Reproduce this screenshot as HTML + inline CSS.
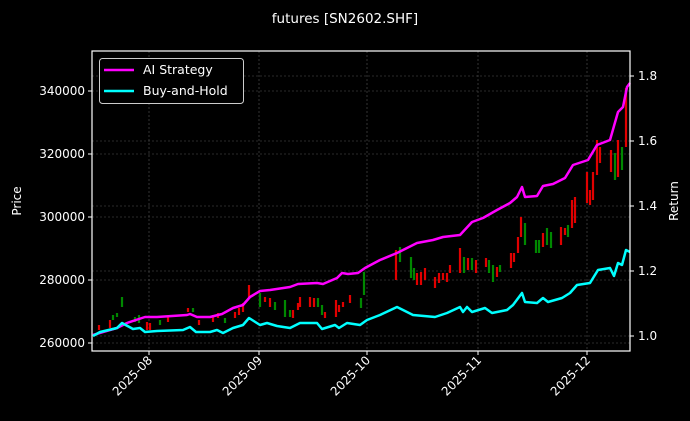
<!DOCTYPE html>
<html><head><meta charset="utf-8"><style>body{margin:0;background:#000}svg{display:block}text{font-family:"DejaVu Sans","Liberation Sans",sans-serif;fill:#fff}</style></head><body>
<svg width="690" height="421" viewBox="0 0 690 421" xmlns="http://www.w3.org/2000/svg">
<rect width="690" height="421" fill="#000"/>
<text x="345" y="23" font-size="13.5" text-anchor="middle">futures [SN2602.SHF]</text>
<g stroke="#555" stroke-width="0.6" stroke-dasharray="2,2">
<line x1="149" y1="51" x2="149" y2="351"/><line x1="259" y1="51" x2="259" y2="351"/><line x1="367" y1="51" x2="367" y2="351"/><line x1="478" y1="51" x2="478" y2="351"/><line x1="587" y1="51" x2="587" y2="351"/>
<line x1="92" y1="91" x2="630" y2="91"/><line x1="92" y1="154" x2="630" y2="154"/><line x1="92" y1="217" x2="630" y2="217"/><line x1="92" y1="280" x2="630" y2="280"/><line x1="92" y1="343" x2="630" y2="343"/>
<line x1="92" y1="76" x2="630" y2="76"/><line x1="92" y1="141" x2="630" y2="141"/><line x1="92" y1="206" x2="630" y2="206"/><line x1="92" y1="271" x2="630" y2="271"/><line x1="92" y1="336" x2="630" y2="336"/>
</g>
<g stroke="#e00000" stroke-width="2.2">
<path d="M99 325V330M110 320V328M147 322V330M150 323V330M168 317V322M188 308V312M199 320V325M213 315V322M218 313V318M235 312V318M239 308V315M243 303V312M249 285V298M265 297V302M270 298V307M293 310V318M298 303V310M300 297V307M310 297V307M314 298V307M325 312V318M336 300V317M339 305V312M343 302V307M350 295V303M396 250V280M417 273V285M421 272V285M425 268V280M435 277V288M439 273V283M443 273V280M447 273V282M450 265V273M460 248V273M468 258V270M476 260V273M486 258V267M497 267V277M511 253V268M514 253V262M518 237V253M521 217V237M543 233V247M561 227V245M565 228V235M572 200V228M575 197V223M587 172V203M590 190V205M593 172V200M597 140V175M600 147V163M611 150V172M618 140V177M626 88V147"/>
</g>
<g stroke="#008800" stroke-width="2.2">
<path d="M113 315V320M117 313V317M122 297V307M135 317V322M139 315V323M160 320V325M193 308V312M225 318V323M260 293V307M275 302V310M285 300V317M290 310V317M318 298V307M322 305V315M361 298V308M364 272V295M400 247V262M411 257V278M414 268V280M464 257V273M472 258V270M489 260V273M493 265V282M500 265V272M525 223V245M536 240V253M539 240V253M547 228V245M551 232V248M568 225V237M615 153V180M622 147V170"/>
</g>
<polyline fill="none" stroke="#ff00ff" stroke-width="2.5" stroke-linejoin="round" points="93,335 103,332 117,328 127,323 145,317 157,317 187,315 190,314 197,317 210,317 222,314 233,308 243,305 250,297 260,291 270,290 290,287 298,284 317,283 323,284 337,278 342,273 348,274 358,273 365,268 380,260 397,253 417,243 433,240 443,237 460,235 472,222 483,218 497,210 510,203 517,197 522,187 525,197 537,196 543,186 553,184 565,178 573,165 588,160 597,145 610,140 618,112 623,107 627,87 630,83"/>
<polyline fill="none" stroke="#00ffff" stroke-width="2.5" stroke-linejoin="round" points="93,336 100,332 117,328 122,323 133,329 140,328 145,332 157,331 183,330 190,327 196,332 210,332 217,330 223,333 233,328 243,325 249,318 260,325 267,323 277,326 290,328 300,323 317,323 322,329 335,325 339,328 347,323 360,325 367,320 380,315 397,307 413,315 435,317 447,313 460,307 463,312 467,307 472,312 485,308 492,313 507,310 513,305 522,293 525,302 537,303 543,298 548,302 562,298 570,293 577,285 590,283 598,270 610,268 614,276 618,263 622,265 626,250 630,252"/>
<rect x="92" y="51" width="538" height="300" fill="none" stroke="#fff" stroke-width="1.2"/>
<g stroke="#fff" stroke-width="1">
<line x1="149" y1="351" x2="149" y2="355"/><line x1="259" y1="351" x2="259" y2="355"/><line x1="367" y1="351" x2="367" y2="355"/><line x1="478" y1="351" x2="478" y2="355"/><line x1="587" y1="351" x2="587" y2="355"/>
<line x1="88" y1="91" x2="92" y2="91"/><line x1="88" y1="154" x2="92" y2="154"/><line x1="88" y1="217" x2="92" y2="217"/><line x1="88" y1="280" x2="92" y2="280"/><line x1="88" y1="343" x2="92" y2="343"/>
<line x1="630" y1="76" x2="634" y2="76"/><line x1="630" y1="141" x2="634" y2="141"/><line x1="630" y1="206" x2="634" y2="206"/><line x1="630" y1="271" x2="634" y2="271"/><line x1="630" y1="336" x2="634" y2="336"/>
</g>
<g font-size="12" text-anchor="end">
<text x="85" y="95">340000</text><text x="85" y="158">320000</text><text x="85" y="221">300000</text><text x="85" y="284">280000</text><text x="85" y="347">260000</text>
</g>
<g font-size="12">
<text x="638" y="80">1.8</text><text x="638" y="145">1.6</text><text x="638" y="210">1.4</text><text x="638" y="275">1.2</text><text x="638" y="340">1.0</text>
</g>
<g font-size="12" text-anchor="end">
<text transform="translate(153,361) rotate(-45)">2025-08</text>
<text transform="translate(263,361) rotate(-45)">2025-09</text>
<text transform="translate(371,361) rotate(-45)">2025-10</text>
<text transform="translate(482,361) rotate(-45)">2025-11</text>
<text transform="translate(591,361) rotate(-45)">2025-12</text>
</g>
<text transform="translate(21,201) rotate(-90)" font-size="12" text-anchor="middle">Price</text>
<text transform="translate(678,201) rotate(-90)" font-size="12" text-anchor="middle">Return</text>
<rect x="99.5" y="58.5" width="144" height="45" rx="3" fill="#000" stroke="#ccc" stroke-width="1"/>
<line x1="104" y1="70" x2="134" y2="70" stroke="#ff00ff" stroke-width="2.5"/>
<line x1="104" y1="91" x2="134" y2="91" stroke="#00ffff" stroke-width="2.5"/>
<text x="143" y="74" font-size="12.5">AI Strategy</text>
<text x="143" y="95" font-size="12.5">Buy-and-Hold</text>
</svg>
</body></html>
